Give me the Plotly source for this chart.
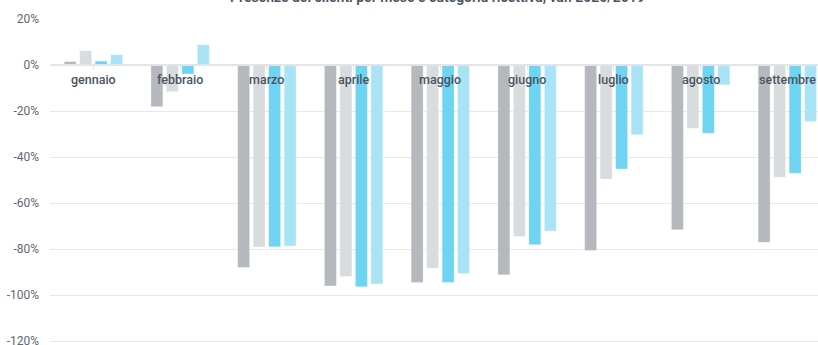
import plotly.graph_objects as go

months = ["gennaio", "febbraio", "marzo", "aprile", "maggio", "giugno",
          "luglio", "agosto", "settembre"]
serie_a = [1.5, -18.1, -88.0, -96.1, -94.6, -91.2, -80.6, -71.6, -77.1]
serie_b = [6.2, -11.6, -79.1, -92.0, -88.4, -74.6, -49.6, -27.5, -48.8]
serie_c = [1.7, -3.9, -79.0, -96.4, -94.6, -78.1, -45.2, -29.7, -47.1]
serie_d = [4.5, 8.8, -78.7, -95.2, -90.6, -72.2, -30.3, -8.6, -24.6]
series_names = ["Serie A", "Serie B", "Serie C", "Serie D"]
colors = ["#b5b9bd", "#d9dcdf", "#6fd4f1", "#a9e4f6"]
yticks = [20, 0, -20, -40, -60, -80, -100, -120]
title = "Presenze dei clienti per mese e categoria ricettiva, var. 2020/2019"

xs = list(range(len(months)))
fig = go.Figure()
for name, vals, col in zip(series_names, [serie_a, serie_b, serie_c, serie_d], colors):
    fig.add_trace(go.Bar(x=xs, y=[v / 100 for v in vals], name=name,
                         marker=dict(color=col, line=dict(color="rgba(255,255,255,0.6)", width=0.5))))

for i, m in enumerate(months):
    fig.add_annotation(x=i, y=0, text=m, showarrow=False, yanchor="top", yshift=-5,
                       font=dict(family="Roboto, Liberation Sans, sans-serif", size=12.5, color="#4a5462", weight=500))

fig.add_annotation(x=0.504, xref="paper", y=1, yref="paper", yanchor="bottom", yshift=12,
                   text=title, showarrow=False,
                   font=dict(family="Roboto, Liberation Sans, sans-serif", size=14, color="#4a5462", weight=600))

ymin = -1.2 - 4 * 0.2 / 46
ymax = 0.2
pos0 = (0 - ymin) / (ymax - ymin)

fig.update_layout(
    width=818, height=345,
    margin=dict(l=50, r=0, t=19, b=0, autoexpand=False),
    paper_bgcolor="white", plot_bgcolor="white",
    barmode="group", bargap=0.286, bargroupgap=0.226,
    showlegend=False,
    xaxis=dict(range=[-0.5, 8.353], showticklabels=False, showgrid=False,
               anchor="free", position=pos0, showline=True, linecolor="#e2e5e8", linewidth=1.5,
               ticks="outside", tickson="boundaries", ticklen=4, tickcolor="#e2e5e8",
               tickvals=xs, zeroline=False, automargin=False),
    yaxis=dict(range=[ymin, ymax], tickvals=[v / 100 for v in yticks],
               ticktext=[f"{v}%" for v in yticks], showgrid=True, gridcolor="#e6e8eb", gridwidth=1,
               zeroline=False, ticks="", ticklabelstandoff=10, automargin=False,
               ticklabeloverflow="allow",
               tickfont=dict(family="Roboto, Liberation Sans, sans-serif", size=12, color="#5f6872")),
)

fig.write_html("out.html")
